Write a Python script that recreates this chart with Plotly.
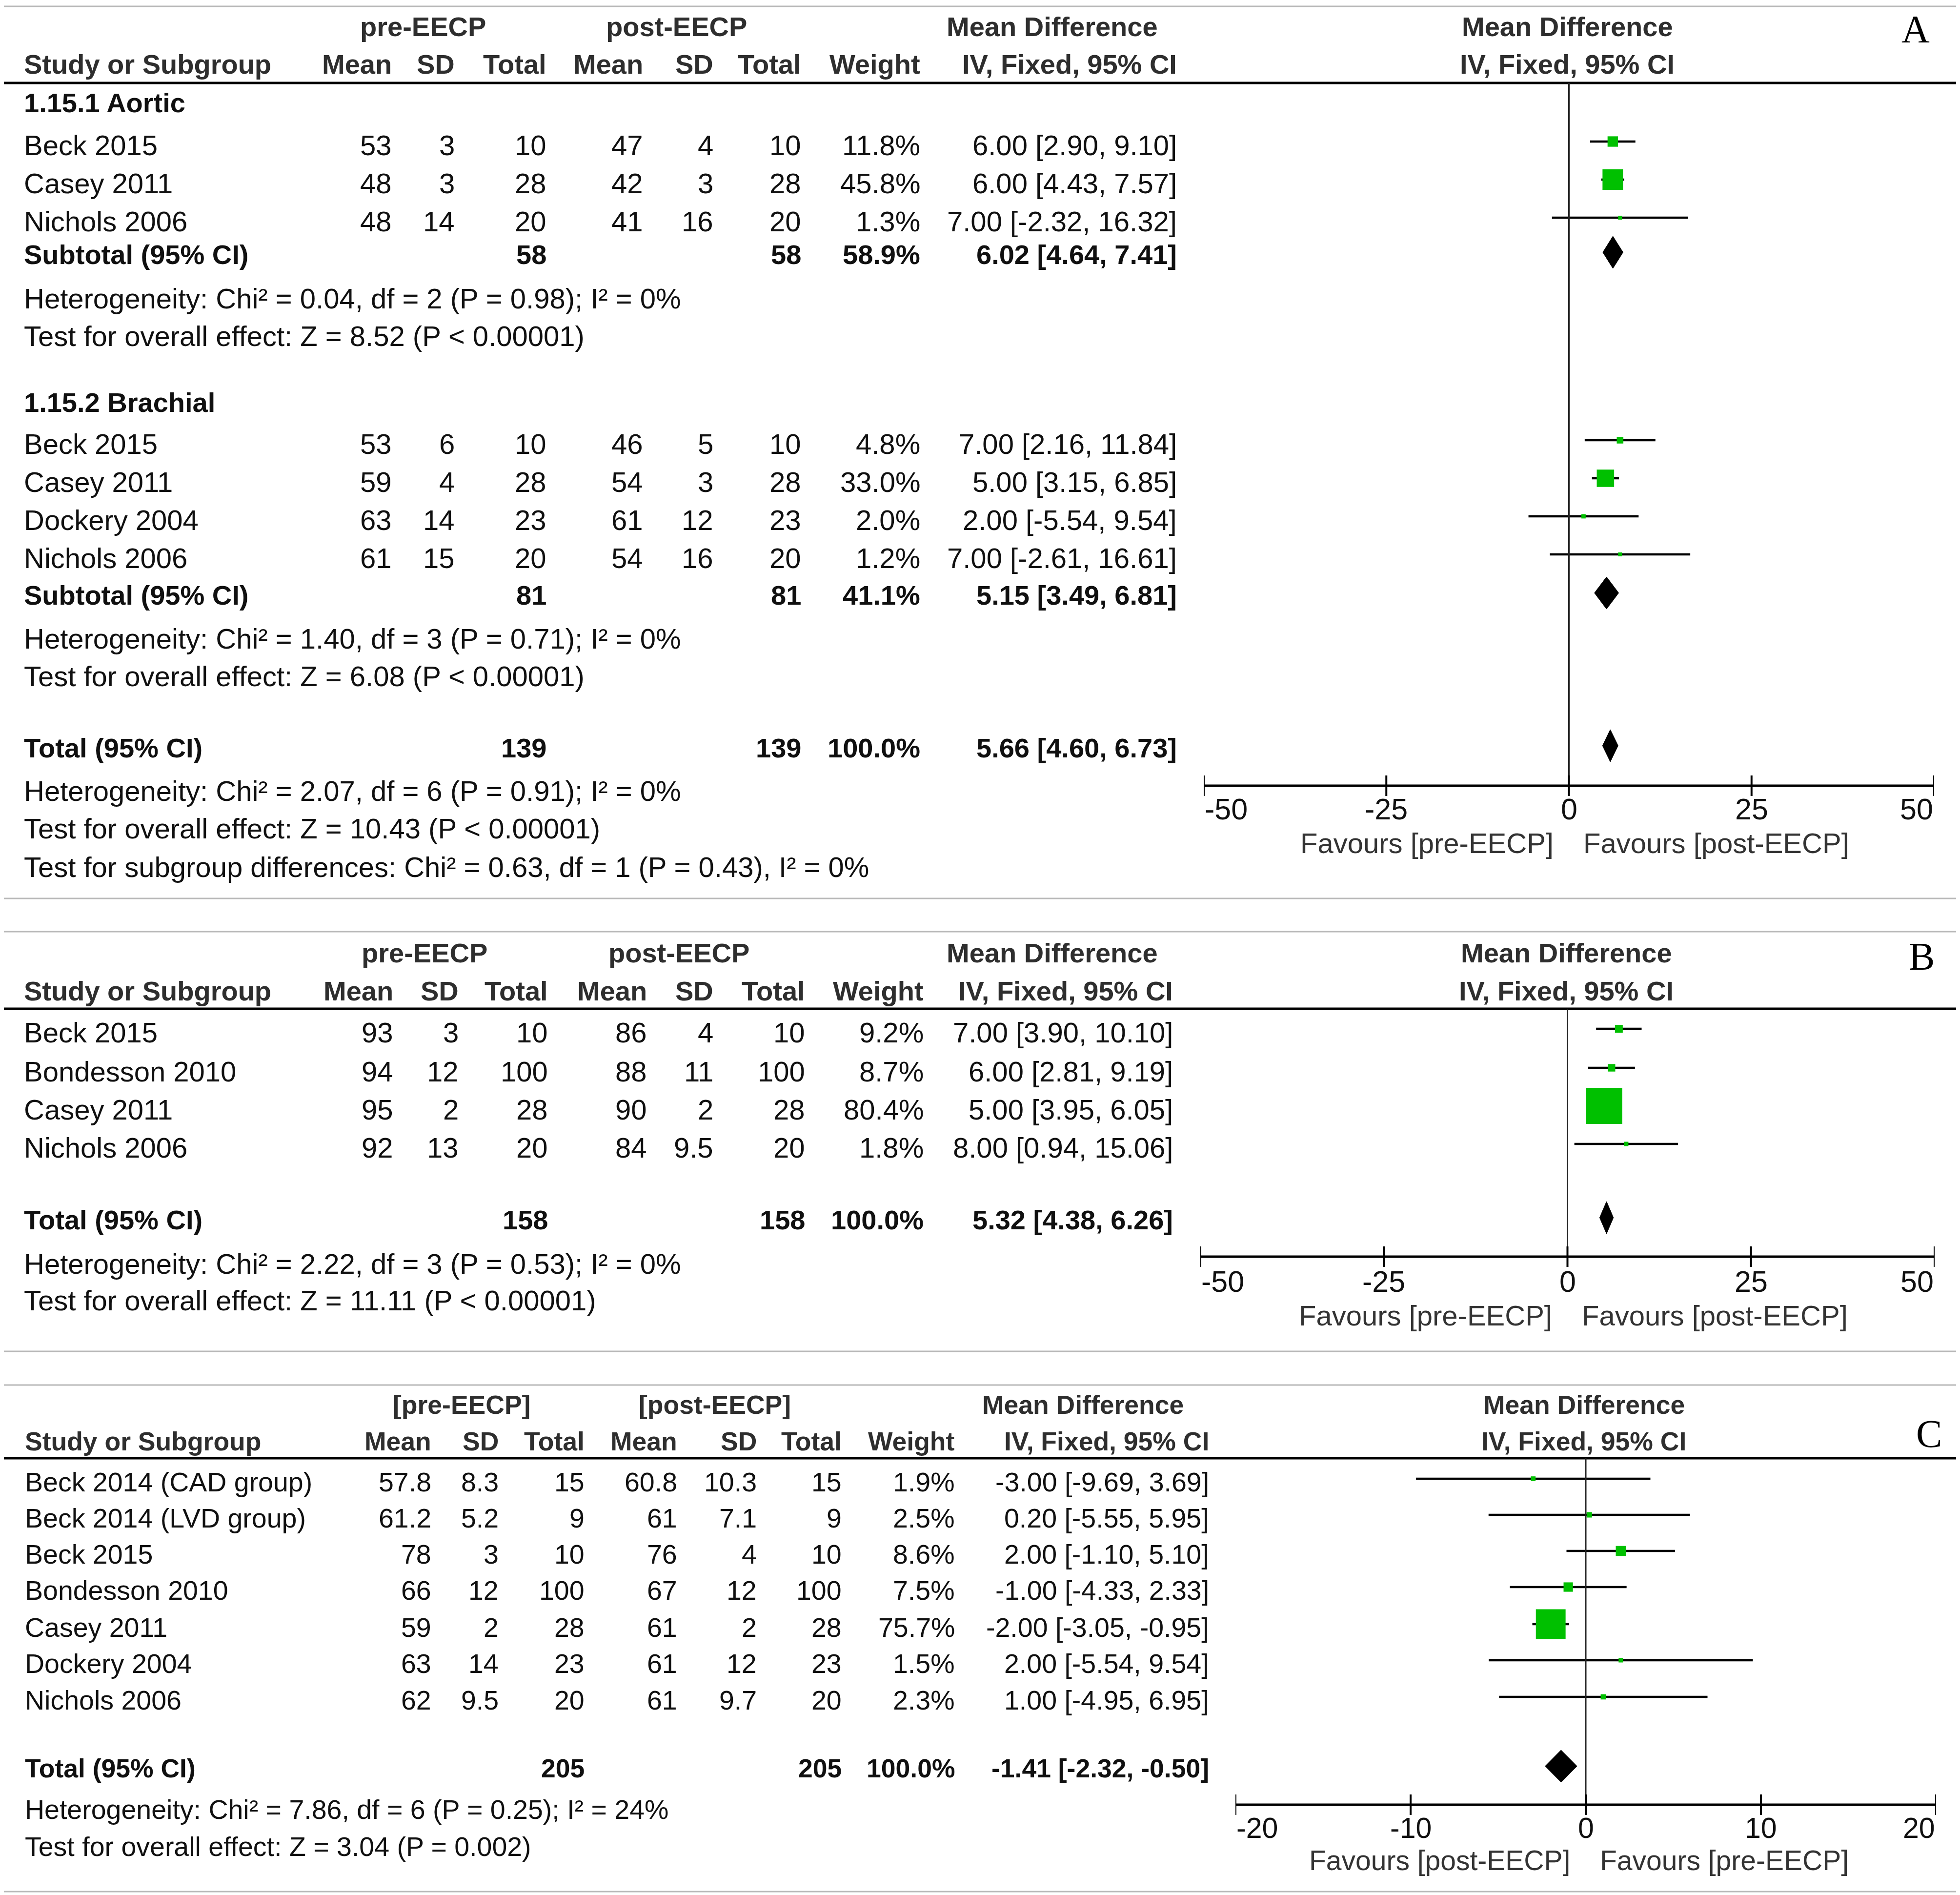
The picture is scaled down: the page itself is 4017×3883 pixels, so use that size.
import plotly.graph_objects as go

W, H = 4017, 3883

# ======================= DATA =======================
# ---- Panel A : 1.15.1 Aortic ----
A1_study = ["Beck 2015", "Casey 2011", "Nichols 2006"]
A1_pre_mean = [53, 48, 48]
A1_pre_sd = [3, 3, 14]
A1_pre_n = [10, 28, 20]
A1_post_mean = [47, 42, 41]
A1_post_sd = [4, 3, 16]
A1_post_n = [10, 28, 20]
A1_weight = [11.8, 45.8, 1.3]
A1_md = [6.00, 6.00, 7.00]
A1_lo = [2.90, 4.43, -2.32]
A1_hi = [9.10, 7.57, 16.32]
A1_sub = [58, 58, 58.9, 6.02, 4.64, 7.41]  # n pre, n post, weight, MD, lower, upper
A1_het = "Heterogeneity: Chi² = 0.04, df = 2 (P = 0.98); I² = 0%"
A1_test = "Test for overall effect: Z = 8.52 (P &lt; 0.00001)"

# ---- Panel A : 1.15.2 Brachial ----
A2_study = ["Beck 2015", "Casey 2011", "Dockery 2004", "Nichols 2006"]
A2_pre_mean = [53, 59, 63, 61]
A2_pre_sd = [6, 4, 14, 15]
A2_pre_n = [10, 28, 23, 20]
A2_post_mean = [46, 54, 61, 54]
A2_post_sd = [5, 3, 12, 16]
A2_post_n = [10, 28, 23, 20]
A2_weight = [4.8, 33.0, 2.0, 1.2]
A2_md = [7.00, 5.00, 2.00, 7.00]
A2_lo = [2.16, 3.15, -5.54, -2.61]
A2_hi = [11.84, 6.85, 9.54, 16.61]
A2_sub = [81, 81, 41.1, 5.15, 3.49, 6.81]
A2_het = "Heterogeneity: Chi² = 1.40, df = 3 (P = 0.71); I² = 0%"
A2_test = "Test for overall effect: Z = 6.08 (P &lt; 0.00001)"

A_tot = [139, 139, 100.0, 5.66, 4.60, 6.73]
A_het = "Heterogeneity: Chi² = 2.07, df = 6 (P = 0.91); I² = 0%"
A_test = "Test for overall effect: Z = 10.43 (P &lt; 0.00001)"
A_subdiff = "Test for subgroup differences: Chi² = 0.63, df = 1 (P = 0.43), I² = 0%"

# ---- Panel B ----
B_study = ["Beck 2015", "Bondesson 2010", "Casey 2011", "Nichols 2006"]
B_pre_mean = [93, 94, 95, 92]
B_pre_sd = [3, 12, 2, 13]
B_pre_n = [10, 100, 28, 20]
B_post_mean = [86, 88, 90, 84]
B_post_sd = [4, 11, 2, 9.5]
B_post_n = [10, 100, 28, 20]
B_weight = [9.2, 8.7, 80.4, 1.8]
B_md = [7.00, 6.00, 5.00, 8.00]
B_lo = [3.90, 2.81, 3.95, 0.94]
B_hi = [10.10, 9.19, 6.05, 15.06]
B_tot = [158, 158, 100.0, 5.32, 4.38, 6.26]
B_het = "Heterogeneity: Chi² = 2.22, df = 3 (P = 0.53); I² = 0%"
B_test = "Test for overall effect: Z = 11.11 (P &lt; 0.00001)"

# ---- Panel C ----
C_study = ["Beck 2014 (CAD group)", "Beck 2014 (LVD group)", "Beck 2015", "Bondesson 2010",
           "Casey 2011", "Dockery 2004", "Nichols 2006"]
C_pre_mean = [57.8, 61.2, 78, 66, 59, 63, 62]
C_pre_sd = [8.3, 5.2, 3, 12, 2, 14, 9.5]
C_pre_n = [15, 9, 10, 100, 28, 23, 20]
C_post_mean = [60.8, 61, 76, 67, 61, 61, 61]
C_post_sd = [10.3, 7.1, 4, 12, 2, 12, 9.7]
C_post_n = [15, 9, 10, 100, 28, 23, 20]
C_weight = [1.9, 2.5, 8.6, 7.5, 75.7, 1.5, 2.3]
C_md = [-3.00, 0.20, 2.00, -1.00, -2.00, 2.00, 1.00]
C_lo = [-9.69, -5.55, -1.10, -4.33, -3.05, -5.54, -4.95]
C_hi = [3.69, 5.95, 5.10, 2.33, -0.95, 9.54, 6.95]
C_tot = [205, 205, 100.0, -1.41, -2.32, -0.50]
C_het = "Heterogeneity: Chi² = 7.86, df = 6 (P = 0.25); I² = 24%"
C_test = "Test for overall effect: Z = 3.04 (P = 0.002)"

AB_ticks = [-50, -25, 0, 25, 50]
C_ticks = [-20, -10, 0, 10, 20]

# ======================= STYLE / LAYOUT =======================
SANS = "Liberation Sans, Arial, sans-serif"
SERIF = "Liberation Serif, Times New Roman, serif"
BODY = "#101010"
HEAD = "#2e2e2e"
GREEN = "#00c000"
BORDER = "#b9b9b9"
OFF = 8          # compensates the page's default body margin
MARK_DY = -7     # squares sit slightly above the text baseline centre
DIA_DY = -4

fig = go.Figure()
ann = []
shapes = []


def px(x):
    return (x - OFF) / W


def add_text(x_px, y_px, s, anchor, size, bold=False, color=BODY, family=SANS):
    ann.append(dict(xref="paper", yref="y", x=px(x_px), y=y_px,
                    text=("<b>%s</b>" % s) if bold else s, showarrow=False,
                    xanchor=anchor, yanchor="middle",
                    font=dict(family=family, size=size, color=color)))


def fmt(v):
    return "%g" % v


def wfmt(w):
    return "%.1f%%" % w


def cifmt(m, l, h):
    return "%.2f [%.2f, %.2f]" % (m, l, h)


def hline(y, width=5, color="black"):
    shapes.append(dict(type="line", xref="paper", yref="y", x0=px(0), x1=px(4015),
                       y0=y, y1=y, line=dict(color=color, width=width)))


def box(y0, y1):
    shapes.append(dict(type="rect", xref="paper", yref="y", x0=px(1.5), x1=px(4014),
                       y0=y0, y1=y1, line=dict(color=BORDER, width=3)))


def headers(P, g1, g2, letter):
    bs = P["bold"]
    add_text(P["pre_c"], P["hdr1"], g1, "center", bs, True, HEAD)
    add_text(P["post_c"], P["hdr1"], g2, "center", bs, True, HEAD)
    add_text(P["md_c"], P["hdr1"], "Mean Difference", "center", bs, True, HEAD)
    add_text(P["name_x"], P["hdr2"], "Study or Subgroup", "left", bs, True, HEAD)
    for x, s in zip(P["cols"], ["Mean", "SD", "Total", "Mean", "SD", "Total", "Weight",
                                "IV, Fixed, 95% CI"]):
        add_text(x, P["hdr2"], s, "right", bs, True, HEAD)
    add_text(P["plot_c"], P["hdr1"], "Mean Difference", "center", bs, True, HEAD)
    add_text(P["plot_c"], P["hdr2"], "IV, Fixed, 95% CI", "center", bs, True, HEAD)
    add_text(P["let_x"], P["let_y"], letter, "center", 80, False, "black", SERIF)
    hline(P["rule"])


def study_rows(P, ys, names, pm, psd, pn, qm, qsd, qn, w, md, lo, hi):
    s = P["body"]
    for i, y in enumerate(ys):
        add_text(P["name_x"], y, names[i], "left", s)
        cells = [fmt(pm[i]), fmt(psd[i]), fmt(pn[i]), fmt(qm[i]), fmt(qsd[i]), fmt(qn[i]),
                 wfmt(w[i]), cifmt(md[i], lo[i], hi[i])]
        for x, c in zip(P["cols"], cells):
            add_text(x, y, c, "right", s)
    k, p, mn = P["sq"]
    sizes = [max(mn, k * wi ** p) for wi in w]
    fig.add_trace(go.Scatter(
        x=md, y=[y + MARK_DY for y in ys], mode="markers", xaxis=P["xa"], yaxis="y",
        marker=dict(symbol="square", size=sizes, color=GREEN, opacity=1, line=dict(width=0)),
        error_x=dict(type="data", symmetric=False,
                     array=[h - m for h, m in zip(hi, md)],
                     arrayminus=[m - l for m, l in zip(md, lo)],
                     color="black", thickness=4.5, width=0),
        hoverinfo="skip", showlegend=False))


def pooled_row(P, y, label, tot):
    bs = P["bold"]
    add_text(P["name_x"], y, label, "left", bs, True)
    cells = ["", "", fmt(tot[0]), "", "", fmt(tot[1]), wfmt(tot[2]),
             cifmt(tot[3], tot[4], tot[5])]
    for x, c in zip(P["cols"], cells):
        if c:
            add_text(x, y, c, "right", bs, True)
    m, l, h = tot[3], tot[4], tot[5]
    hh = 33
    yc = y + DIA_DY
    fig.add_trace(go.Scatter(
        x=[l, m, h, m, l], y=[yc, yc - hh, yc, yc + hh, yc], mode="lines", fill="toself",
        fillcolor="black", line=dict(color="black", width=1),
        xaxis=P["xa"], yaxis="y", hoverinfo="skip", showlegend=False))


def forest_axis(P, ticks, fav_left, fav_right):
    xr = P["xa"]
    ya = P["axis"]
    shapes.append(dict(type="line", xref=xr, yref="y", x0=0, x1=0, y0=P["rule"], y1=ya,
                       line=dict(color="#222222", width=3)))
    shapes.append(dict(type="line", xref=xr, yref="y", x0=ticks[0], x1=ticks[-1],
                       y0=ya, y1=ya, line=dict(color="black", width=5)))
    for i, t in enumerate(ticks):
        shapes.append(dict(type="line", xref=xr, yref="y", x0=t, x1=t, y0=ya - 21, y1=ya + 21,
                           line=dict(color="black", width=4)))
        anchor = "left" if i == 0 else ("right" if i == len(ticks) - 1 else "center")
        ann.append(dict(xref=xr, yref="y", x=t, y=P["ticklab"], text=fmt(t), showarrow=False,
                        xanchor=anchor, yanchor="middle",
                        font=dict(family=SANS, size=P["tick_size"], color=BODY)))
    for txt, anchor, shift in [(fav_left, "right", -30), (fav_right, "left", 27)]:
        ann.append(dict(xref=xr, yref="y", x=0, y=P["fav"], text=txt, showarrow=False,
                        xanchor=anchor, yanchor="middle", xshift=shift,
                        font=dict(family=SANS, size=P["fav_size"], color="#333333")))


# ---------------- panel layouts (pixel positions) ----------------
PA = dict(xa="x", name_x=47, cols=[805, 934, 1122, 1320, 1464, 1644, 1888, 2414],
          pre_c=867, post_c=1386, md_c=2156, plot_c=3212, let_x=3926, let_y=60,
          hdr1=54, hdr2=131, rule=170, body=58, bold=56, sq=(6.2, 0.5, 8),
          axis=1610, ticklab=1658, fav=1727, fav_size=58, tick_size=61, dom=(2467, 3964))
PB = dict(xa="x2", name_x=47, cols=[808, 942, 1125, 1328, 1464, 1652, 1895, 2406],
          pre_c=870, post_c=1391, md_c=2156, plot_c=3210, let_x=3938, let_y=1960,
          hdr1=1952, hdr2=2030, rule=2067, body=58, bold=56, sq=(3.33, 0.707, 9),
          axis=2575, ticklab=2626, fav=2695, fav_size=58, tick_size=61, dom=(2460, 3965))
PC = dict(xa="x3", name_x=49, cols=[886, 1024, 1200, 1390, 1553, 1727, 1959, 2480],
          pre_c=946, post_c=1465, md_c=2219, plot_c=3246, let_x=3953, let_y=2938,
          hdr1=2878, hdr2=2953, rule=2988, body=55.5, bold=53.5, sq=(7.0, 0.5, 9),
          axis=3698, ticklab=3746, fav=3812, fav_size=57, tick_size=59, dom=(2532, 3968))

# ---------------- Panel A ----------------
box(13, 1841)
headers(PA, "pre-EECP", "post-EECP", "A")
add_text(PA["name_x"], 210, "1.15.1 Aortic", "left", PA["bold"], True)
study_rows(PA, [297, 375, 453], A1_study, A1_pre_mean, A1_pre_sd, A1_pre_n,
           A1_post_mean, A1_post_sd, A1_post_n, A1_weight, A1_md, A1_lo, A1_hi)
pooled_row(PA, 521, "Subtotal (95% CI)", A1_sub)
add_text(PA["name_x"], 611, A1_het, "left", PA["body"])
add_text(PA["name_x"], 688, A1_test, "left", PA["body"])
add_text(PA["name_x"], 824, "1.15.2 Brachial", "left", PA["bold"], True)
study_rows(PA, [909, 987, 1065, 1143], A2_study, A2_pre_mean, A2_pre_sd, A2_pre_n,
           A2_post_mean, A2_post_sd, A2_post_n, A2_weight, A2_md, A2_lo, A2_hi)
pooled_row(PA, 1219, "Subtotal (95% CI)", A2_sub)
add_text(PA["name_x"], 1308, A2_het, "left", PA["body"])
add_text(PA["name_x"], 1385, A2_test, "left", PA["body"])
pooled_row(PA, 1532, "Total (95% CI)", A_tot)
add_text(PA["name_x"], 1620, A_het, "left", PA["body"])
add_text(PA["name_x"], 1697, A_test, "left", PA["body"])
add_text(PA["name_x"], 1776, A_subdiff, "left", PA["body"])
forest_axis(PA, AB_ticks, "Favours [pre-EECP]", "Favours [post-EECP]")

# ---------------- Panel B ----------------
box(1909, 2769)
headers(PB, "pre-EECP", "post-EECP", "B")
study_rows(PB, [2115, 2195, 2273, 2351], B_study, B_pre_mean, B_pre_sd, B_pre_n,
           B_post_mean, B_post_sd, B_post_n, B_weight, B_md, B_lo, B_hi)
pooled_row(PB, 2499, "Total (95% CI)", B_tot)
add_text(PB["name_x"], 2589, B_het, "left", PB["body"])
add_text(PB["name_x"], 2664, B_test, "left", PB["body"])
forest_axis(PB, AB_ticks, "Favours [pre-EECP]", "Favours [post-EECP]")

# ---------------- Panel C ----------------
box(2838, 3876)
headers(PC, "[pre-EECP]", "[post-EECP]", "C")
study_rows(PC, [3037, 3111, 3185, 3259, 3335, 3409, 3484], C_study, C_pre_mean, C_pre_sd,
           C_pre_n, C_post_mean, C_post_sd, C_post_n, C_weight, C_md, C_lo, C_hi)
pooled_row(PC, 3623, "Total (95% CI)", C_tot)
add_text(PC["name_x"], 3708, C_het, "left", PC["body"])
add_text(PC["name_x"], 3784, C_test, "left", PC["body"])
forest_axis(PC, C_ticks, "Favours [post-EECP]", "Favours [pre-EECP]")


# ---------------- axes ----------------
def xdom(P):
    return [px(P["dom"][0]), px(P["dom"][1])]


fig.update_layout(
    width=W, height=H, autosize=False,
    margin=dict(l=0, r=0, t=0, b=0, pad=0),
    paper_bgcolor="white", plot_bgcolor="rgba(0,0,0,0)",
    showlegend=False,
    xaxis=dict(domain=xdom(PA), range=[-50, 50], visible=False, anchor="y", fixedrange=True),
    xaxis2=dict(domain=xdom(PB), range=[-50, 50], visible=False, anchor="y", fixedrange=True),
    xaxis3=dict(domain=xdom(PC), range=[-20, 20], visible=False, anchor="y", fixedrange=True),
    yaxis=dict(domain=[0, 1], range=[H + OFF, OFF], visible=False, anchor="x", fixedrange=True),
    annotations=ann,
    shapes=shapes,
)

fig.write_html("out.html")
